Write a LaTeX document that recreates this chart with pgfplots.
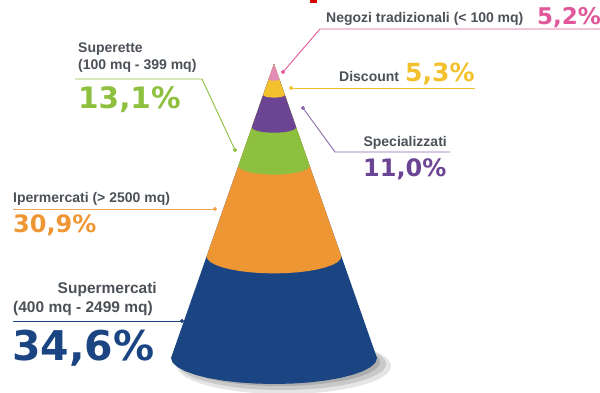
\documentclass[border=0pt]{standalone}
\usepackage{pgfplots}
\pgfplotsset{compat=1.18}
\usepackage{pgfplotstable}
\usepackage{fontspec}
\setmainfont{Liberation Sans}
\newfontfamily\pctfont{DejaVu Sans}

\definecolor{labgrey}{HTML}{4C5157}
\definecolor{cpink}{HTML}{E0589A}
\definecolor{cpinkseg}{HTML}{E28CB6}
\definecolor{cyellow}{HTML}{F4C12E}
\definecolor{cpurple}{HTML}{6C4494}
\definecolor{cgreen}{HTML}{8DC03F}
\definecolor{corange}{HTML}{EF9634}
\definecolor{cblue}{HTML}{1B4582}

% Market shares (%), from the apex down
\def\vNegozi{5.2}
\def\vDiscount{5.3}
\def\vSpecial{11.0}
\def\vSuperette{13.1}
\def\vIper{30.9}
\def\vSuper{34.6}
\pgfmathsetmacro{\cA}{\vNegozi}
\pgfmathsetmacro{\cB}{\cA+\vDiscount}
\pgfmathsetmacro{\cC}{\cB+\vSpecial}
\pgfmathsetmacro{\cD}{\cC+\vSuperette}
\pgfmathsetmacro{\cE}{\cD+\vIper}
\pgfmathsetmacro{\cF}{\cE+\vSuper}

% unit cone outline (apex, then base half-ellipse), scaled by cumulative share
\pgfplotstableread{
X Y
0 0
103 294
101.44 298.51
96.79 302.89
89.20 307.00
78.90 310.71
66.21 313.92
51.50 316.52
35.23 318.43
17.89 319.60
0 320
-17.89 319.60
-35.23 318.43
-51.50 316.52
-66.21 313.92
-78.90 310.71
-89.20 307.00
-96.79 302.89
-101.44 298.51
-103 294
}\conetemplate

\newcommand{\conepart}[2]{%
  \addplot[fill=#1, draw=none] table[x expr={274+\thisrow{X}*#2/\cF}, y expr={64+\thisrow{Y}*#2/\cF}] {\conetemplate};
}

\begin{document}
\begin{tikzpicture}
\begin{axis}[
  scale only axis, width=600pt, height=393pt,
  xmin=0, xmax=600, ymin=0, ymax=393, y dir=reverse,
  hide axis, clip=false,
]
% shadow
\fill[black, opacity=0.10] (axis cs:284,366) ellipse[x radius=107pt, y radius=28pt];
\fill[black, opacity=0.12] (axis cs:282,364) ellipse[x radius=104pt, y radius=26pt];
\fill[black, opacity=0.14] (axis cs:280,362) ellipse[x radius=100pt, y radius=24pt];

\conepart{cblue}{\cF}
\conepart{corange}{\cE}
\conepart{cgreen}{\cD}
\conepart{cpurple}{\cC}
\conepart{cyellow}{\cB}
\conepart{cpinkseg}{\cA}

% connectors
\addplot[cpink, line width=0.9pt, mark=*, mark size=1.6pt, mark indices={1}] coordinates {(283,72) (320,29) (600,29)};
\addplot[cyellow, line width=0.9pt, mark=*, mark size=1.6pt, mark indices={1}] coordinates {(291,88) (475,88)};
\addplot[cpurple!80, line width=0.9pt, mark=*, mark size=1.6pt, mark indices={1}] coordinates {(303,108) (335,152) (450,152)};
\addplot[cgreen, line width=0.9pt, mark=*, mark size=1.6pt, mark indices={1}] coordinates {(235,150) (202,79) (75,79)};
\addplot[corange!85, line width=0.9pt, mark=*, mark size=1.6pt, mark indices={1}] coordinates {(215,209) (13,209)};
\addplot[cblue, line width=0.9pt, mark=*, mark size=1.6pt, mark indices={1}] coordinates {(182,321) (13,321)};

% labels
\tikzset{lab/.style={anchor=base west, inner sep=0pt, text=labgrey, font=\fontsize{14}{16}\selectfont\bfseries}}
\node[lab] at (axis cs:326,23) {Negozi tradizionali (< 100 mq)};
\node[anchor=base west, inner sep=0pt, text=cpink, font=\pctfont\bfseries\fontsize{23}{26}\selectfont] at (axis cs:537,25) {5,2\%};

\node[lab] at (axis cs:339,82) {Discount};
\node[anchor=base west, inner sep=0pt, text=cyellow, font=\pctfont\bfseries\fontsize{25}{28}\selectfont] at (axis cs:405,82) {5,3\%};

\node[lab, anchor=base east] at (axis cs:447,147) {Specializzati};
\node[anchor=base west, inner sep=0pt, text=cpurple, font=\pctfont\bfseries\fontsize{24}{27}\selectfont] at (axis cs:363,177) {11,0\%};

\node[lab] at (axis cs:78,53) {Superette};
\node[lab] at (axis cs:78,70) {(100 mq - 399 mq)};
\node[anchor=base west, inner sep=0pt, text=cgreen, font=\pctfont\bfseries\fontsize{29.5}{32}\selectfont] at (axis cs:78,109) {13,1\%};

\node[lab] at (axis cs:13,203) {Ipermercati (> 2500 mq)};
\node[anchor=base west, inner sep=0pt, text=corange, font=\pctfont\bfseries\fontsize{24}{27}\selectfont] at (axis cs:13,232) {30,9\%};

\node[lab, anchor=base east, font=\fontsize{15.5}{18}\selectfont\bfseries] at (axis cs:157,293) {Supermercati};
\node[lab, font=\fontsize{15.5}{18}\selectfont\bfseries] at (axis cs:13,312) {(400 mq - 2499 mq)};
\node[anchor=base west, inner sep=0pt, text=cblue, font=\pctfont\bfseries\fontsize{41}{44}\selectfont] at (axis cs:12,360) {34,6\%};

% small red mark at the top edge
\fill[red!85!black] (axis cs:310,0) rectangle (axis cs:317,3);
\end{axis}
\pgfresetboundingbox
\path[use as bounding box] (current axis.south west) rectangle (current axis.north east);
\end{tikzpicture}
\end{document}
